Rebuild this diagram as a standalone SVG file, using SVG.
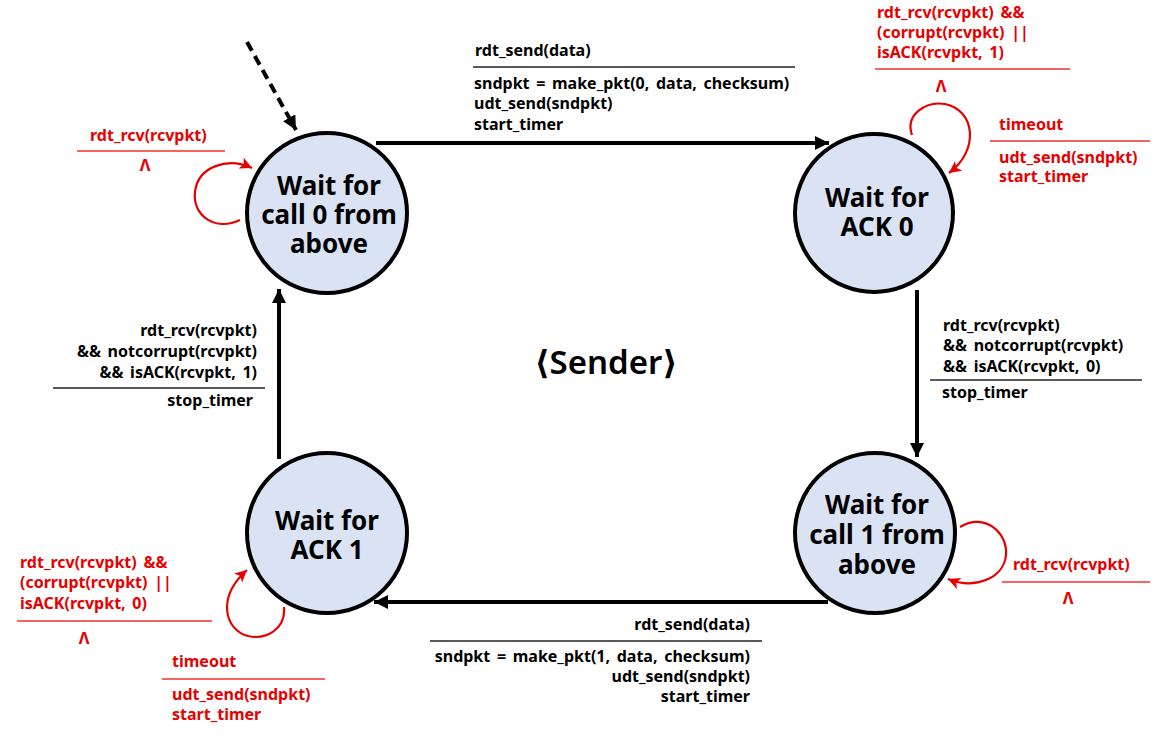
<svg xmlns="http://www.w3.org/2000/svg" width="1160" height="739" viewBox="0 0 1160 739">
<defs>
<style>
.st{fill:#dae3f3;stroke:#000;stroke-width:4}
.sn{font-family:"Noto Sans","Liberation Sans",sans-serif;font-weight:700;font-size:26px;fill:#000;text-anchor:middle}
.lb{font-family:"Noto Sans","Liberation Sans",sans-serif;font-weight:700;font-size:16px;word-spacing:2.5px;fill:#000}
.rd{fill:#e60000}
.r{text-anchor:end}
.ed{fill:none;stroke:#000;stroke-width:4}
.lp{fill:none;stroke:#e60000;stroke-width:2.2}
.sep{stroke:#222;stroke-width:1.3}
.sepr{stroke:#f03030;stroke-width:1.3}
</style>
<marker id="ah" markerUnits="userSpaceOnUse" markerWidth="16" markerHeight="16" refX="14" refY="7" orient="auto">
<path d="M0,0 L14,7 L0,14 Z" fill="#000"/>
</marker>
<marker id="ar" markerUnits="userSpaceOnUse" markerWidth="14" markerHeight="14" refX="12" refY="6" orient="auto">
<path d="M0,0 L12,6 L0,12 L3,6 Z" fill="#e60000"/>
</marker>
</defs>
<rect width="1160" height="739" fill="#fff"/>

<g id="connectors">
<line class="ed" x1="247" y1="42" x2="296" y2="130" stroke-dasharray="10,6" marker-end="url(#ah)"/>
<line class="ed" x1="376" y1="143" x2="829" y2="143" marker-end="url(#ah)"/>
<line class="ed" x1="917" y1="290" x2="917" y2="457" marker-end="url(#ah)"/>
<line class="ed" x1="828" y1="602" x2="374" y2="602" marker-end="url(#ah)"/>
<line class="ed" x1="279" y1="459" x2="279" y2="289" marker-end="url(#ah)"/>
<path class="lp" d="M240,220 C215,232 192,215 195,192 C198,166 228,157 252,168" marker-end="url(#ar)"/>
<path class="lp" d="M912,135 C905,115 925,101 945,104 C975,110 980,150 949,173" marker-end="url(#ar)"/>
<path class="lp" d="M960,527 C985,512 1008,533 1006,555 C1004,578 975,590 948,579" marker-end="url(#ar)"/>
<path class="lp" d="M284,607 C286,630 265,640 248,636 C225,630 216,598 247,570" marker-end="url(#ar)"/>
</g>

<g id="s0">
<circle class="st" cx="327" cy="213" r="80"/>
<text class="sn"><tspan x="329" y="195">Wait for</tspan><tspan x="329" y="224">call 0 from</tspan><tspan x="329" y="253">above</tspan></text>
</g>
<g id="s1">
<circle class="st" cx="874" cy="213" r="79"/>
<text class="sn"><tspan x="877" y="207">Wait for</tspan><tspan x="877" y="236">ACK 0</tspan></text>
</g>
<g id="s2">
<circle class="st" cx="875" cy="533" r="80"/>
<text class="sn"><tspan x="877" y="514">Wait for</tspan><tspan x="877" y="544">call 1 from</tspan><tspan x="877" y="574">above</tspan></text>
</g>
<g id="s3">
<circle class="st" cx="327" cy="533" r="80"/>
<text class="sn"><tspan x="327" y="530">Wait for</tspan><tspan x="327" y="559">ACK 1</tspan></text>
</g>

<g id="labels">
<text class="lb" x="475" y="56">rdt_send(data)</text>
<line class="sep" x1="473" y1="67" x2="795" y2="67"/>
<text class="lb"><tspan x="474" y="89">sndpkt = make_pkt(0, data, checksum)</tspan><tspan x="474" y="109">udt_send(sndpkt)</tspan><tspan x="474" y="130">start_timer</tspan></text>

<text class="lb rd" x="90" y="141">rdt_rcv(rcvpkt)</text>
<line class="sepr" x1="77" y1="151" x2="225" y2="151"/>
<text class="lb rd" x="145" y="171" text-anchor="middle">Λ</text>

<text class="lb rd"><tspan x="877" y="18">rdt_rcv(rcvpkt) &amp;&amp;</tspan><tspan x="877" y="38">(corrupt(rcvpkt) ||</tspan><tspan x="877" y="58">isACK(rcvpkt, 1)</tspan></text>
<line class="sepr" x1="875" y1="69" x2="1070" y2="69"/>
<text class="lb rd" x="941" y="92" text-anchor="middle">Λ</text>
<text class="lb rd" x="999" y="130">timeout</text>
<line class="sepr" x1="990" y1="141" x2="1150" y2="141"/>
<text class="lb rd"><tspan x="999" y="163">udt_send(sndpkt)</tspan><tspan x="999" y="182">start_timer</tspan></text>

<text class="lb"><tspan x="943" y="331">rdt_rcv(rcvpkt)</tspan><tspan x="943" y="351">&amp;&amp; notcorrupt(rcvpkt)</tspan><tspan x="943" y="372">&amp;&amp; isACK(rcvpkt, 0)</tspan></text>
<line class="sep" x1="930" y1="380" x2="1142" y2="380"/>
<text class="lb" x="942" y="398">stop_timer</text>

<text class="lb rd" x="1013" y="570">rdt_rcv(rcvpkt)</text>
<line class="sepr" x1="1002" y1="582" x2="1150" y2="582"/>
<text class="lb rd" x="1068" y="604" text-anchor="middle">Λ</text>

<text class="lb r" x="750" y="630">rdt_send(data)</text>
<line class="sep" x1="430" y1="641" x2="762" y2="641"/>
<text class="lb r"><tspan x="750" y="662">sndpkt = make_pkt(1, data, checksum)</tspan><tspan x="750" y="682">udt_send(sndpkt)</tspan><tspan x="750" y="702">start_timer</tspan></text>

<text class="lb r"><tspan x="257" y="336">rdt_rcv(rcvpkt)</tspan><tspan x="257" y="357">&amp;&amp; notcorrupt(rcvpkt)</tspan><tspan x="257" y="378">&amp;&amp; isACK(rcvpkt, 1)</tspan></text>
<line class="sep" x1="53" y1="388" x2="265" y2="388"/>
<text class="lb r" x="253" y="406">stop_timer</text>

<text class="lb rd"><tspan x="20" y="568">rdt_rcv(rcvpkt) &amp;&amp;</tspan><tspan x="20" y="588">(corrupt(rcvpkt) ||</tspan><tspan x="20" y="609">isACK(rcvpkt, 0)</tspan></text>
<line class="sepr" x1="17" y1="621" x2="212" y2="621"/>
<text class="lb rd" x="84" y="644" text-anchor="middle">Λ</text>
<text class="lb rd" x="172" y="667">timeout</text>
<line class="sepr" x1="162" y1="679" x2="325" y2="679"/>
<text class="lb rd"><tspan x="172" y="700">udt_send(sndpkt)</tspan><tspan x="172" y="720">start_timer</tspan></text>

<text x="606" y="374" text-anchor="middle" style="font-family:'Noto Sans','DejaVu Sans',sans-serif;font-weight:600;font-size:33px;fill:#000">⟨Sender⟩</text>
</g>
</svg>
